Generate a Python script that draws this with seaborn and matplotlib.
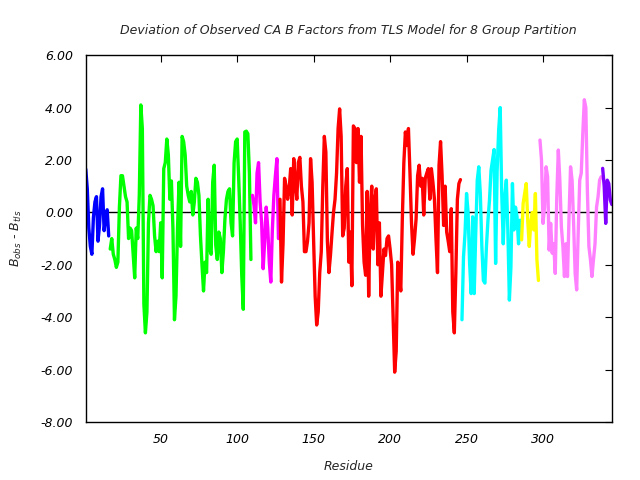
import matplotlib
matplotlib.use("Agg")
import matplotlib.pyplot as plt
from matplotlib.ticker import FormatStrFormatter
import numpy as np
import pandas as pd
import seaborn as sns

# B_obs - B_tls per residue, one list per TLS group (residues run on from 1)
blue = [1.65, 0.9, -0.6, -1.3, -1.6, -0.2, 0.4, 0.6, -1.1, -0.5, 0.6, 0.9, -0.7, -0.2, 0.1, -0.9]
green = [-1.4, -1.0, -1.6, -1.8, -2.1, -1.9, 0.2, 1.4, 1.4, 1.0,
         0.6, 0.4, -1.0, -0.6, -0.7, -1.6, -2.5, -0.6, -1.0, 0.65,
         4.1, 3.2, -3.5, -4.6, -3.8, -0.4, 0.65, 0.5, 0.25, -0.9,
         -1.5, -1.1, -1.5, -0.4, -2.5, 1.67, 1.9, 2.8, 2.2, 0.5,
         1.2, -0.6, -4.1, -3.2, -0.6, 1.15, -1.3, 2.9, 2.7, 2.2,
         1.0, 0.65, 0.4, 0.8, -0.1, 0.4, 1.3, 1.15, 0.65, -0.9,
         -2.0, -3.0, -1.9, -2.3, 0.5, -1.4, -1.6, 1.15, 1.8, -1.26,
         -1.8, -0.75, -1.0, -2.3, -1.5, -0.25, 0.5, 0.8, 0.9, -0.4,
         -0.9, 1.9, 2.7, 2.8, 1.3, -0.4, -2.4, -3.7, 3.07, 3.1,
         3.0, 1.5, -1.8]
magenta = [0.65, 0.27, -0.4, 1.5, 1.9, 0.4, -0.4, -2.15, -1.1, 0.2,
           -0.6, -1.9, -2.66, -0.7, 0.65, 1.4, 2.05, -1.0]
red = [0.5, -2.66, -1.2, 1.3, 1.0, 0.5, 0.9, 1.67, -0.1, 2.05,
       1.15, 0.5, 1.9, 2.1, 1.0, 0.4, -1.5, -1.5, -1.1, -0.4,
       2.05, 1.15, -1.1, -3.2, -4.3, -3.8, -2.3, -1.5, 1.0, 2.9,
       2.3, -1.1, -2.3, -1.65, -0.8, 0.0, 0.5, 1.5, 3.2, 3.95,
       2.9, -0.9, -0.6, 1.0, 1.67, -1.9, -0.75, -2.8, 3.3, 3.2,
       1.9, 3.2, 1.15, 2.9, -0.5, -1.9, -2.4, 0.8, -3.2, 0.0,
       1.0, -1.4, 0.5, 0.9, -2.0, -0.4, -3.2, -2.3, -1.4, -1.65,
       -1.0, -0.9, -1.4, -2.0, -4.06, -6.1, -5.3, -1.9, -2.5, -3.0,
       -0.25, 1.9, 3.07, 2.55, 3.2, 1.5, -0.4, -1.6, -1.0, -0.25,
       1.4, 1.8, 1.0, 1.3, -0.1, 1.3, 1.5, 1.67, 0.5, 1.67,
       1.15, 0.5, -1.0, -2.3, 1.8, 2.7, 1.4, -0.5, 1.0, -0.75,
       -1.1, -1.5, 0.14, -3.8, -4.6, -2.3, 0.5, 1.1, 1.25]
cyan = [-4.1, -1.7, -0.8, 0.72, 0.0, -1.95, -3.1, -0.17, -3.1, -0.8,
        1.23, 1.74, 0.72, -1.3, -2.6, -2.7, -1.3, -0.3, 0.47, 1.6,
        2.0, 2.4, -1.95, 1.6, 3.14, 4.0, 0.72, -1.2, 0.6, 1.23,
        -0.67, -3.35, -2.1, 1.1, -0.67, 0.2, -0.17, -1.2, -0.3]
yellow = [-1.05, 0.34, 0.72, 1.1, -0.3, -1.3, -0.4, 0.0, -0.67, 0.72, -1.8, -2.6]
pink = [2.76, 2.0, -0.42, 0.2, 1.74, 1.36, -1.44, -0.42, -1.56, -1.2,
        -2.33, 0.6, 2.38, 1.23, -0.55, -1.3, -2.45, -1.2, -2.45, -0.17,
        1.74, 1.23, -0.42, -2.33, -2.96, -0.8, 1.23, 1.5, 3.0, 4.3,
        4.0, 0.85, -1.3, -1.8, -2.45, -1.8, -1.2, 0.2, 0.6, 1.23, 1.36]
purple = [1.68, 1.0, -0.42, 1.23, 1.1, 0.47, 0.3]

groups = [("g1", blue, "#0000ff"), ("g2", green, "#00ff00"), ("g3", magenta, "#ff00ff"),
          ("g4", red, "#ff0000"), ("g5", cyan, "#00ffff"), ("g6", yellow, "#ffff00"),
          ("g7", pink, "#ff80ff"), ("g8", purple, "#7f00ff")]

frames = []
start = 1
for name, vals, _ in groups:
    frames.append(pd.DataFrame({"residue": np.arange(start, start + len(vals)),
                                "dev": vals, "group": name}))
    start += len(vals)
df = pd.concat(frames, ignore_index=True)
palette = {name: col for name, _, col in groups}

sns.set_style("white")
plt.rcParams["font.family"] = ["DejaVu Sans"]

fig = plt.figure(figsize=(6.4, 4.8), dpi=100)
ax = fig.add_axes([0.134, 0.121, 0.822, 0.764])

ax.axhline(0, color="black", lw=1.0, zorder=1)
sns.lineplot(data=df, x="residue", y="dev", hue="group", palette=palette,
             estimator=None, sort=False, lw=2.4, legend=False, ax=ax, zorder=2)

ax.set_xlim(1, 345)
ax.set_ylim(-8, 6)
ax.set_xticks([50, 100, 150, 200, 250, 300])
ax.set_yticks(np.arange(-8, 7, 2))
ax.yaxis.set_major_formatter(FormatStrFormatter("%.2f"))
ax.tick_params(direction="in", length=5, width=0.8, top=True, right=True,
               labelsize=9, pad=8, colors="black")
ax.tick_params(axis="y", pad=9)
for lab in ax.get_xticklabels() + ax.get_yticklabels():
    lab.set_fontstyle("italic")
for sp in ax.spines.values():
    sp.set_color("black")
    sp.set_linewidth(1.0)

ax.set_xlabel("Residue", fontsize=9, fontstyle="italic", labelpad=10)
ax.set_ylabel(r"$B_{obs}$ - $B_{tls}$", fontsize=9, fontstyle="italic", labelpad=12)
ax.set_title("Deviation of Observed CA B Factors from TLS Model for 8 Group Partition",
             fontsize=9, fontstyle="italic", pad=15)

fig.savefig("out.png", dpi=100)
